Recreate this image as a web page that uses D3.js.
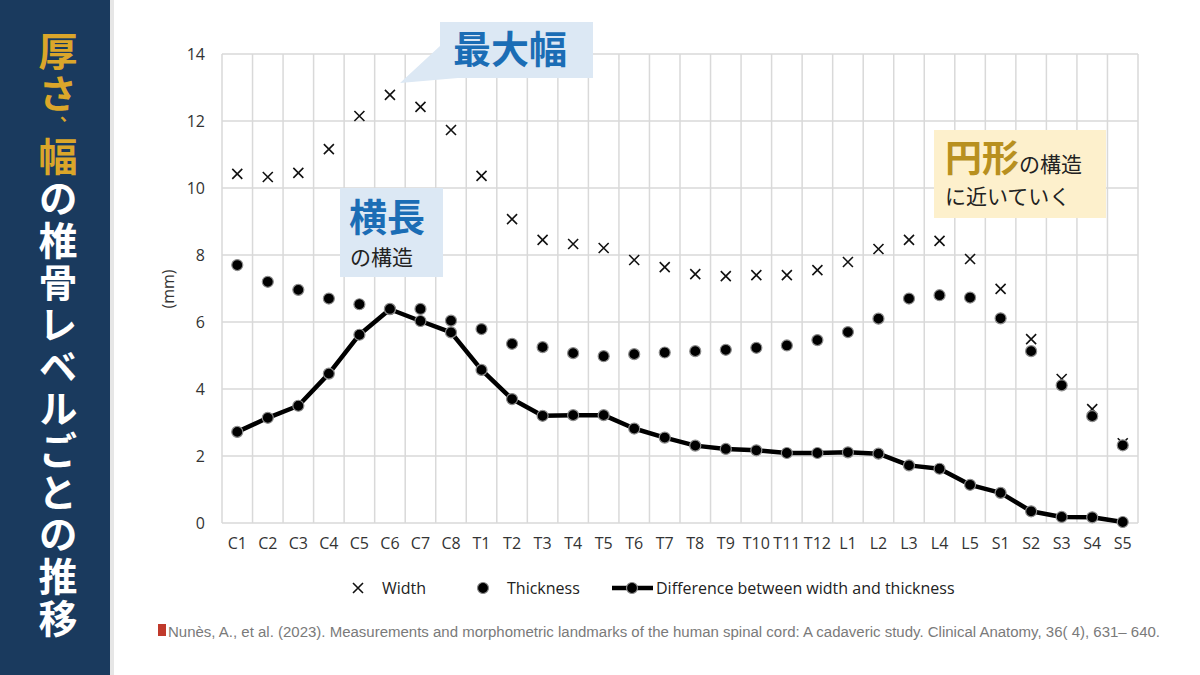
<!DOCTYPE html>
<html>
<head>
<meta charset="utf-8">
<script src="https://cdn.jsdelivr.net/npm/d3@7"></script>
<style>
  body { margin: 0; background: #fff; }
  svg { display: block; }
</style>
</head>
<body>
<div id="chart"></div>
<script>
let width = 1200, height = 675;

// Vertebral levels
let levels = ["C1","C2","C3","C4","C5","C6","C7","C8","T1","T2","T3","T4","T5","T6","T7","T8","T9","T10","T11","T12","L1","L2","L3","L4","L5","S1","S2","S3","S4","S5"];

// Values (mm)
let widthVals = [10.42,10.33,10.45,11.16,12.15,12.78,12.42,11.73,10.36,9.07,8.45,8.33,8.21,7.85,7.64,7.43,7.37,7.40,7.40,7.55,7.79,8.18,8.45,8.42,7.88,6.99,5.49,4.30,3.40,2.38];
let thickVals = [7.70,7.20,6.96,6.70,6.53,6.39,6.39,6.04,5.79,5.35,5.25,5.07,4.98,5.04,5.09,5.13,5.17,5.23,5.30,5.46,5.70,6.10,6.70,6.80,6.73,6.11,5.13,4.11,3.19,2.32];
let diffVals  = [2.72,3.14,3.50,4.46,5.62,6.38,6.03,5.69,4.57,3.70,3.20,3.22,3.22,2.82,2.55,2.31,2.21,2.17,2.09,2.09,2.11,2.07,1.72,1.62,1.14,0.90,0.35,0.18,0.17,0.03];

let yTicks = [0, 2, 4, 6, 8, 10, 12, 14];
let legendItems = ["Width", "Thickness", "Difference between width and thickness"];

let svg = d3.select("#chart")
    .append("svg")
    .attr("width", width)
    .attr("height", height);

// Left title bar
svg.append("rect")
    .attr("x", 0).attr("y", 0)
    .attr("width", 110).attr("height", height)
    .attr("fill", "#1a3a5e");
svg.append("rect")
    .attr("x", 110).attr("y", 0)
    .attr("width", 4).attr("height", height)
    .attr("fill", "#e6e6e6");

// vertical title as a single text run
let gold = "#dba62a";
let title = svg.append("text")
    .attr("x", 58).attr("y", 32)
    .style("writing-mode", "vertical-rl")
    .style("font-family", "'Noto Sans CJK JP'")
    .style("font-weight", 700)
    .style("font-size", "39px")
    .style("letter-spacing", "3px");
title.append("tspan").attr("fill", gold).text("厚さ");
title.append("tspan").attr("fill", gold).style("font-size", "18px").text("、");
title.append("tspan").attr("fill", gold).text("幅");
title.append("tspan").attr("fill", "#ffffff").text("の椎骨レベルごとの推移");

// Plot area
let plot = { left: 222, right: 1138, top: 54, bottom: 523 };

let x = d3.scaleBand()
    .domain(levels)
    .range([plot.left, plot.right])
    .padding(0);

let y = d3.scaleLinear()
    .domain([0, 14])
    .range([plot.bottom, plot.top]);

let grid = svg.append("g").attr("stroke", "#d9d9d9").attr("stroke-width", 1.5);

// horizontal gridlines
grid.selectAll("line.h")
    .data(yTicks)
    .enter().append("line")
    .attr("x1", plot.left).attr("x2", plot.right)
    .attr("y1", d => y(d)).attr("y2", d => y(d));

// vertical gridlines between categories
let bounds = levels.map(d => x(d)).concat([plot.right]);
grid.selectAll("line.v")
    .data(bounds)
    .enter().append("line")
    .attr("x1", d => d).attr("x2", d => d)
    .attr("y1", plot.top).attr("y2", plot.bottom);

// Axes
let axisFont = "'Open Sans', sans-serif";

let yAxis = svg.append("g")
    .attr("transform", `translate(${plot.left - 17},0)`)
    .call(d3.axisLeft(y).tickValues(yTicks).tickSize(0).tickPadding(0));
yAxis.select(".domain").remove();
yAxis.selectAll("text")
    .style("font-family", axisFont)
    .style("font-size", "16px")
    .attr("fill", "#333");

let xAxis = svg.append("g")
    .attr("transform", `translate(0,${plot.bottom + 15})`)
    .call(d3.axisBottom(x).tickSize(0).tickPadding(0));
xAxis.select(".domain").remove();
xAxis.selectAll("text")
    .attr("dy", "0.71em")
    .style("font-family", axisFont)
    .style("font-size", "16px")
    .attr("fill", "#333");

svg.append("text")
    .attr("transform", "translate(174,289) rotate(-90)")
    .attr("text-anchor", "middle")
    .style("font-family", axisFont)
    .style("font-size", "16px")
    .attr("fill", "#333")
    .text("(mm)");

let cx = d => x(d) + x.bandwidth() / 2;

// Difference line
let line = d3.line()
    .x((d, i) => cx(levels[i]))
    .y(d => y(d));

svg.append("path")
    .datum(diffVals)
    .attr("d", line)
    .attr("fill", "none")
    .attr("stroke", "#000")
    .attr("stroke-width", 4.5)
    .attr("stroke-linejoin", "round");

function dot(sel) {
    sel.attr("r", 5.5)
        .attr("fill", "#000")
        .attr("stroke", "#8c8c8c")
        .attr("stroke-width", 1.2);
}

svg.append("g").selectAll("circle")
    .data(diffVals)
    .enter().append("circle")
    .attr("cx", (d, i) => cx(levels[i]))
    .attr("cy", d => y(d))
    .call(dot);

// Width markers (x)
let xs = 5;
let wG = svg.append("g").attr("stroke", "#111").attr("stroke-width", 1.6);
wG.selectAll("path")
    .data(widthVals)
    .enter().append("path")
    .attr("d", (d, i) => {
        let px = cx(levels[i]), py = y(d);
        return `M${px - xs},${py - xs}L${px + xs},${py + xs}M${px - xs},${py + xs}L${px + xs},${py - xs}`;
    });

// Thickness markers
svg.append("g").selectAll("circle")
    .data(thickVals)
    .enter().append("circle")
    .attr("cx", (d, i) => cx(levels[i]))
    .attr("cy", d => y(d))
    .call(dot);

// Callout: 最大幅
svg.append("path")
    .attr("d", "M440,22H593V78H458L400,83L440,46Z")
    .attr("fill", "#dce8f4");
svg.append("text")
    .attr("x", 510).attr("y", 63)
    .attr("text-anchor", "middle")
    .style("font-family", "'Noto Sans CJK JP'")
    .style("font-weight", 700)
    .style("font-size", "38px")
    .attr("fill", "#1b6db5")
    .text("最大幅");

// Callout: 横長の構造
svg.append("rect")
    .attr("x", 340).attr("y", 188)
    .attr("width", 103).attr("height", 89)
    .attr("fill", "#dce8f4");
svg.append("text")
    .attr("x", 349).attr("y", 231)
    .style("font-family", "'Noto Sans CJK JP'")
    .style("font-weight", 700)
    .style("font-size", "38px")
    .attr("fill", "#1b6db5")
    .text("横長");
svg.append("text")
    .attr("x", 350).attr("y", 265)
    .style("font-family", "'Noto Sans CJK JP'")
    .style("font-size", "21px")
    .attr("fill", "#222")
    .text("の構造");

// Callout: 円形の構造に近いていく
svg.append("rect")
    .attr("x", 934).attr("y", 130)
    .attr("width", 172).attr("height", 88)
    .attr("fill", "#fdf0cc");
let c1 = svg.append("text")
    .attr("x", 945).attr("y", 172)
    .style("font-family", "'Noto Sans CJK JP'")
    .attr("fill", "#222");
c1.append("tspan")
    .style("font-weight", 700)
    .style("font-size", "37px")
    .attr("fill", "#b8901f")
    .text("円形");
c1.append("tspan")
    .style("font-size", "21px")
    .text("の構造");
svg.append("text")
    .attr("x", 945).attr("y", 204)
    .style("font-family", "'Noto Sans CJK JP'")
    .style("font-size", "21px")
    .attr("fill", "#222")
    .text("に近いていく");

// Legend
let ly = 588;
let legend = svg.append("g")
    .style("font-family", axisFont)
    .style("font-size", "16px")
    .attr("fill", "#222");

legend.append("path")
    .attr("d", `M${358 - xs},${ly - xs}L${358 + xs},${ly + xs}M${358 - xs},${ly + xs}L${358 + xs},${ly - xs}`)
    .attr("stroke", "#111").attr("stroke-width", 1.6);
legend.append("circle").attr("cx", 483).attr("cy", ly).call(dot);
legend.append("line")
    .attr("x1", 612).attr("x2", 653)
    .attr("y1", ly).attr("y2", ly)
    .attr("stroke", "#000").attr("stroke-width", 4.5);
legend.append("circle").attr("cx", 632).attr("cy", ly).call(dot);

legend.selectAll("text.lg")
    .data(legendItems)
    .enter().append("text")
    .attr("x", (d, i) => [382, 507, 656][i])
    .attr("y", ly + 5.5)
    .text(d => d);

// Citation
svg.append("rect")
    .attr("x", 158).attr("y", 624)
    .attr("width", 8).attr("height", 12)
    .attr("fill", "#c0392b");
svg.append("text")
    .attr("x", 168).attr("y", 637)
    .attr("textLength", 992)
    .attr("lengthAdjust", "spacingAndGlyphs")
    .style("font-family", "'Liberation Sans', Arial, sans-serif")
    .style("font-size", "14px")
    .attr("fill", "#7a7a7a")
    .text("Nunès, A., et al. (2023). Measurements and morphometric landmarks of the human spinal cord: A cadaveric study. Clinical Anatomy, 36( 4), 631– 640.");
</script>
</body>
</html>
